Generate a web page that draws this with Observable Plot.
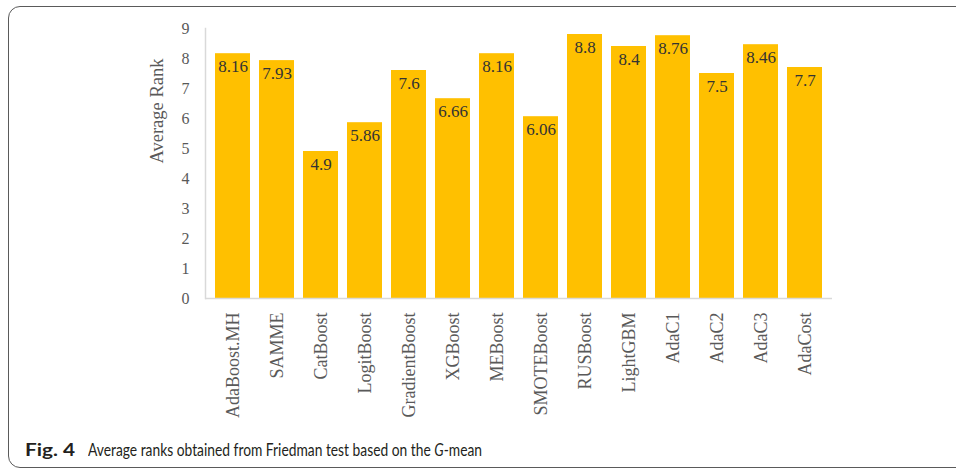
<!DOCTYPE html>
<html>
<head>
<meta charset="utf-8">
<script src="https://cdn.jsdelivr.net/npm/d3@7"></script>
<script src="https://cdn.jsdelivr.net/npm/@observablehq/plot@0.6"></script>
<style>
  html, body { margin: 0; padding: 0; background: #fff; width: 956px; height: 471px; overflow: hidden; }
  #frame { position: absolute; left: 8px; top: 6px; width: 980px; height: 462px;
           border: 1.5px solid #5a5a5a; border-radius: 12px; box-sizing: border-box; }
  #chart { position: absolute; left: 0; top: 0; }
  .cap { position: absolute; top: 442px; font-family: Lato, "Open Sans", sans-serif;
         font-size: 16.5px; color: #231f20; white-space: nowrap; transform-origin: 0 0; line-height: 1; }
  #capLabel { left: 25px; font-weight: 700; }
  #capText { left: 88px; }
</style>
</head>
<body>
<div id="frame"></div>
<div id="chart"></div>
<div id="capLabel" class="cap">Fig. 4</div>
<div id="capText" class="cap">Average ranks obtained from Friedman test based on the <i>G</i>-mean</div>
<script>
const categories = ["AdaBoost.MH", "SAMME", "CatBoost", "LogitBoost", "GradientBoost", "XGBoost", "MEBoost",
                    "SMOTEBoost", "RUSBoost", "LightGBM", "AdaC1", "AdaC2", "AdaC3", "AdaCost"];
const values = [8.16, 7.93, 4.9, 5.86, 7.6, 6.66, 8.16, 6.06, 8.8, 8.4, 8.76, 7.5, 8.46, 7.7];
const yTicks = [0, 1, 2, 3, 4, 5, 6, 7, 8, 9];
const yTitle = "Average Rank";

const data = categories.map((c, i) => ({name: c, value: values[i]}));
const serif = "'Liberation Serif', 'Times New Roman', serif";

const chart = Plot.plot({
  width: 956,
  height: 440,
  marginLeft: 205,
  marginRight: 124,
  marginTop: 28,
  marginBottom: 142,
  style: {fontFamily: serif, background: "transparent", overflow: "visible"},
  x: {domain: categories, paddingInner: 0.2, paddingOuter: 0.1, label: null},
  y: {domain: [0, 9], label: null},
  marks: [
    Plot.barY(data, {x: "name", y: "value", fill: "#FFC000"}),
    Plot.ruleY([0], {stroke: "#d9d9d9", strokeWidth: 1.5}),
    Plot.frame({anchor: "left", stroke: "#d9d9d9", strokeWidth: 1.5}),
    Plot.axisY({ticks: yTicks, tickSize: 0, tickPadding: 16, fontSize: 16, fontFamily: serif, fill: "#595959", label: null}),
    Plot.axisX({tickRotate: -90, tickSize: 0, tickPadding: 14, fontSize: 18, fontFamily: serif, fill: "#595959", label: null}),
    Plot.text([yTitle], {frameAnchor: "left", rotate: -90, dx: -48, fontSize: 18.5, fontFamily: serif, fill: "#595959"}),
    Plot.text(data, {x: "name", y: "value", text: d => String(d.value), dy: 13, lineAnchor: "middle",
                     fontSize: 17, fontFamily: serif, fill: "#333333"})
  ]
});
document.getElementById("chart").appendChild(chart);

function fit(id, target) {
  const el = document.getElementById(id);
  const w = el.getBoundingClientRect().width;
  el.style.transform = `scaleX(${target / w})`;
}
fit("capLabel", 50);
fit("capText", 394);
</script>
</body>
</html>
